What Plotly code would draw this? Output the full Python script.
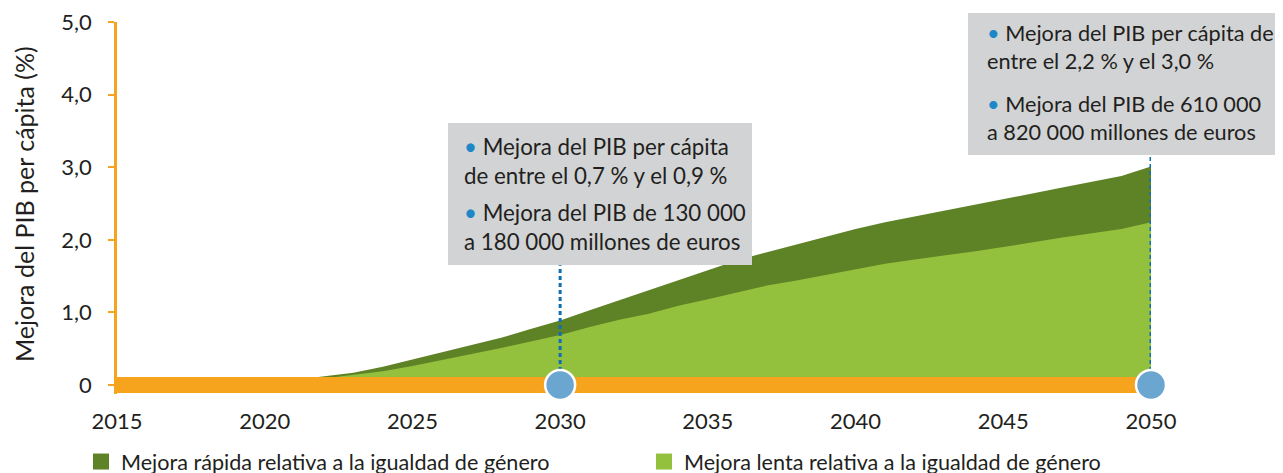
import plotly.graph_objects as go

# --- data ---------------------------------------------------------------
years = list(range(2015, 2051))

# Mejora rápida (total height of the dark green area), % of GDP per capita
rapid = [0.0, 0.0, 0.0, 0.0, 0.0, 0.02, 0.07, 0.12, 0.17, 0.25,
         0.35, 0.45, 0.55, 0.65, 0.77, 0.89, 1.03, 1.17, 1.31, 1.45,
         1.58, 1.72, 1.83, 1.94, 2.05, 2.15, 2.24, 2.32, 2.40, 2.47,
         2.55, 2.64, 2.72, 2.80, 2.88, 3.01]

# Mejora lenta (light green area)
slow = [0.0, 0.0, 0.0, 0.0, 0.0, 0.0, 0.04, 0.09, 0.13, 0.19,
        0.26, 0.34, 0.42, 0.51, 0.60, 0.69, 0.80, 0.90, 0.98, 1.09,
        1.18, 1.28, 1.37, 1.44, 1.52, 1.60, 1.67, 1.73, 1.78, 1.84,
        1.90, 1.97, 2.03, 2.09, 2.15, 2.24]

milestones = [2030, 2050]

x_ticks = [2015, 2020, 2025, 2030, 2035, 2040, 2045, 2050]
y_ticks = [0, 1, 2, 3, 4, 5]
y_ticktext = ["0", "1,0", "2,0", "3,0", "4,0", "5,0"]

legend_names = ["Mejora rápida relativa a la igualdad de género",
                "Mejora lenta relativa a la igualdad de género"]

notes = [
    ["Mejora del PIB per cápita<br>de entre el 0,7 % y el 0,9 %",
     "Mejora del PIB de 130 000<br>a 180 000 millones de euros"],
    ["Mejora del PIB per cápita de<br>entre el 2,2 % y el 3,0 %",
     "Mejora del PIB de 610 000<br>a 820 000 millones de euros"],
]

# --- style --------------------------------------------------------------
DARK_GREEN = "#5e8226"
LIGHT_GREEN = "#93c13e"
ORANGE = "#f6a31e"
DOT_BLUE = "#6aa6cf"
LINE_BLUE = "#0f6fb2"
BULLET_BLUE = "#1d87c8"
BOX_GREY = "#d1d3d4"
TEXT = "#231f20"
FONT = "Lato, Open Sans, sans-serif"

W, H = 1283, 473
OFF = 8  # page body margin: the figure is drawn 8px in from the window corner
L, R, T, B = 117 - OFF, 132 + OFF, 22 - OFF, 79 + OFF


# positions below are given in window pixels
def px_x(p):
    return (p - OFF - L) / (W - L - R)


def px_y(p):
    return (H - B - (p - OFF)) / (H - T - B)


fig = go.Figure()

fig.add_trace(go.Scatter(
    x=years, y=rapid, mode="lines", fill="tozeroy",
    fillcolor=DARK_GREEN, line=dict(width=0, color=DARK_GREEN),
    showlegend=False, hoverinfo="skip",
))
fig.add_trace(go.Scatter(
    x=years, y=slow, mode="lines", fill="tozeroy",
    fillcolor=LIGHT_GREEN, line=dict(width=0, color=LIGHT_GREEN),
    showlegend=False, hoverinfo="skip",
))

# thick orange base band along zero
fig.add_trace(go.Scatter(
    x=[years[0], years[-1]], y=[0, 0], mode="lines",
    line=dict(color=ORANGE, width=16), showlegend=False, hoverinfo="skip",
))

# dotted leaders from the boxes down to the milestone dots
leader_tops = [1.65, 3.17]
for m, top in zip(milestones, leader_tops):
    fig.add_trace(go.Scatter(
        x=[m, m], y=[0, top], mode="lines",
        line=dict(color=LINE_BLUE, width=3, dash="4px,3px"),
        showlegend=False, hoverinfo="skip", cliponaxis=False,
    ))

fig.add_trace(go.Scatter(
    x=milestones, y=[0] * len(milestones), mode="markers",
    marker=dict(size=30, color=DOT_BLUE, line=dict(color="white", width=2.5)),
    showlegend=False, hoverinfo="skip", cliponaxis=False,
))

# legend-only entries (square swatches)
for name, col in zip(legend_names, [DARK_GREEN, LIGHT_GREEN]):
    fig.add_trace(go.Scatter(
        x=[None], y=[None], mode="markers", name=name,
        marker=dict(symbol="square", size=16, color=col),
    ))

# grey note boxes and their text
boxes = [(448, 123, 752, 265), (968, 13, 1300, 155)]
text_pos = [(462, 22.3, [161, 227]), (985, 21.7, [47, 118])]
for (x0, y0, x1, y1), (tx, fs, tys), pair in zip(boxes, text_pos, notes):
    fig.add_shape(type="rect", xref="paper", yref="paper",
                  x0=px_x(x0), x1=px_x(x1), y0=px_y(y1), y1=px_y(y0),
                  fillcolor=BOX_GREY, line=dict(width=0), layer="above")
    for ty, txt in zip(tys, pair):
        fig.add_annotation(
            xref="paper", yref="paper", x=px_x(tx), y=px_y(ty),
            xanchor="left", yanchor="middle", align="left", showarrow=False,
            text=f"<span style='color:{BULLET_BLUE}'>•</span> {txt}",
            font=dict(family=FONT, size=fs, color=TEXT),
        )

# y axis title
fig.add_annotation(
    xref="paper", yref="paper", x=px_x(24), y=px_y(204),
    text="Mejora del PIB per cápita (%)", textangle=-90, showarrow=False,
    xanchor="center", yanchor="middle",
    font=dict(family=FONT, size=25, color=TEXT),
)

fig.update_layout(
    width=W, height=H,
    margin=dict(l=L, r=R, t=T, b=B, autoexpand=False),
    paper_bgcolor="white", plot_bgcolor="white",
    font=dict(family=FONT, size=21, color=TEXT),
    xaxis=dict(
        range=[2015, 2050], tickvals=x_ticks, showgrid=False, zeroline=False,
        showline=False, ticks="", ticklabelstandoff=12,
        ticklabeloverflow="allow", tickfont=dict(size=22, color=TEXT),
    ),
    yaxis=dict(
        range=[-0.124, 5.0], tickvals=y_ticks, ticktext=y_ticktext,
        showgrid=False, zeroline=False, showline=True, linecolor=ORANGE,
        linewidth=2.5, ticks="outside", ticklen=6, tickwidth=2,
        tickcolor=ORANGE, ticklabelstandoff=12,
        ticklabeloverflow="allow", tickfont=dict(size=22, color=TEXT),
    ),
    legend=dict(
        orientation="h", x=px_x(81), xanchor="left",
        y=px_y(441), yanchor="top", entrywidth=518,
        font=dict(family=FONT, size=21.6, color=TEXT),
        bgcolor="rgba(0,0,0,0)",
    ),
    showlegend=True,
)

fig.write_html("out.html")
